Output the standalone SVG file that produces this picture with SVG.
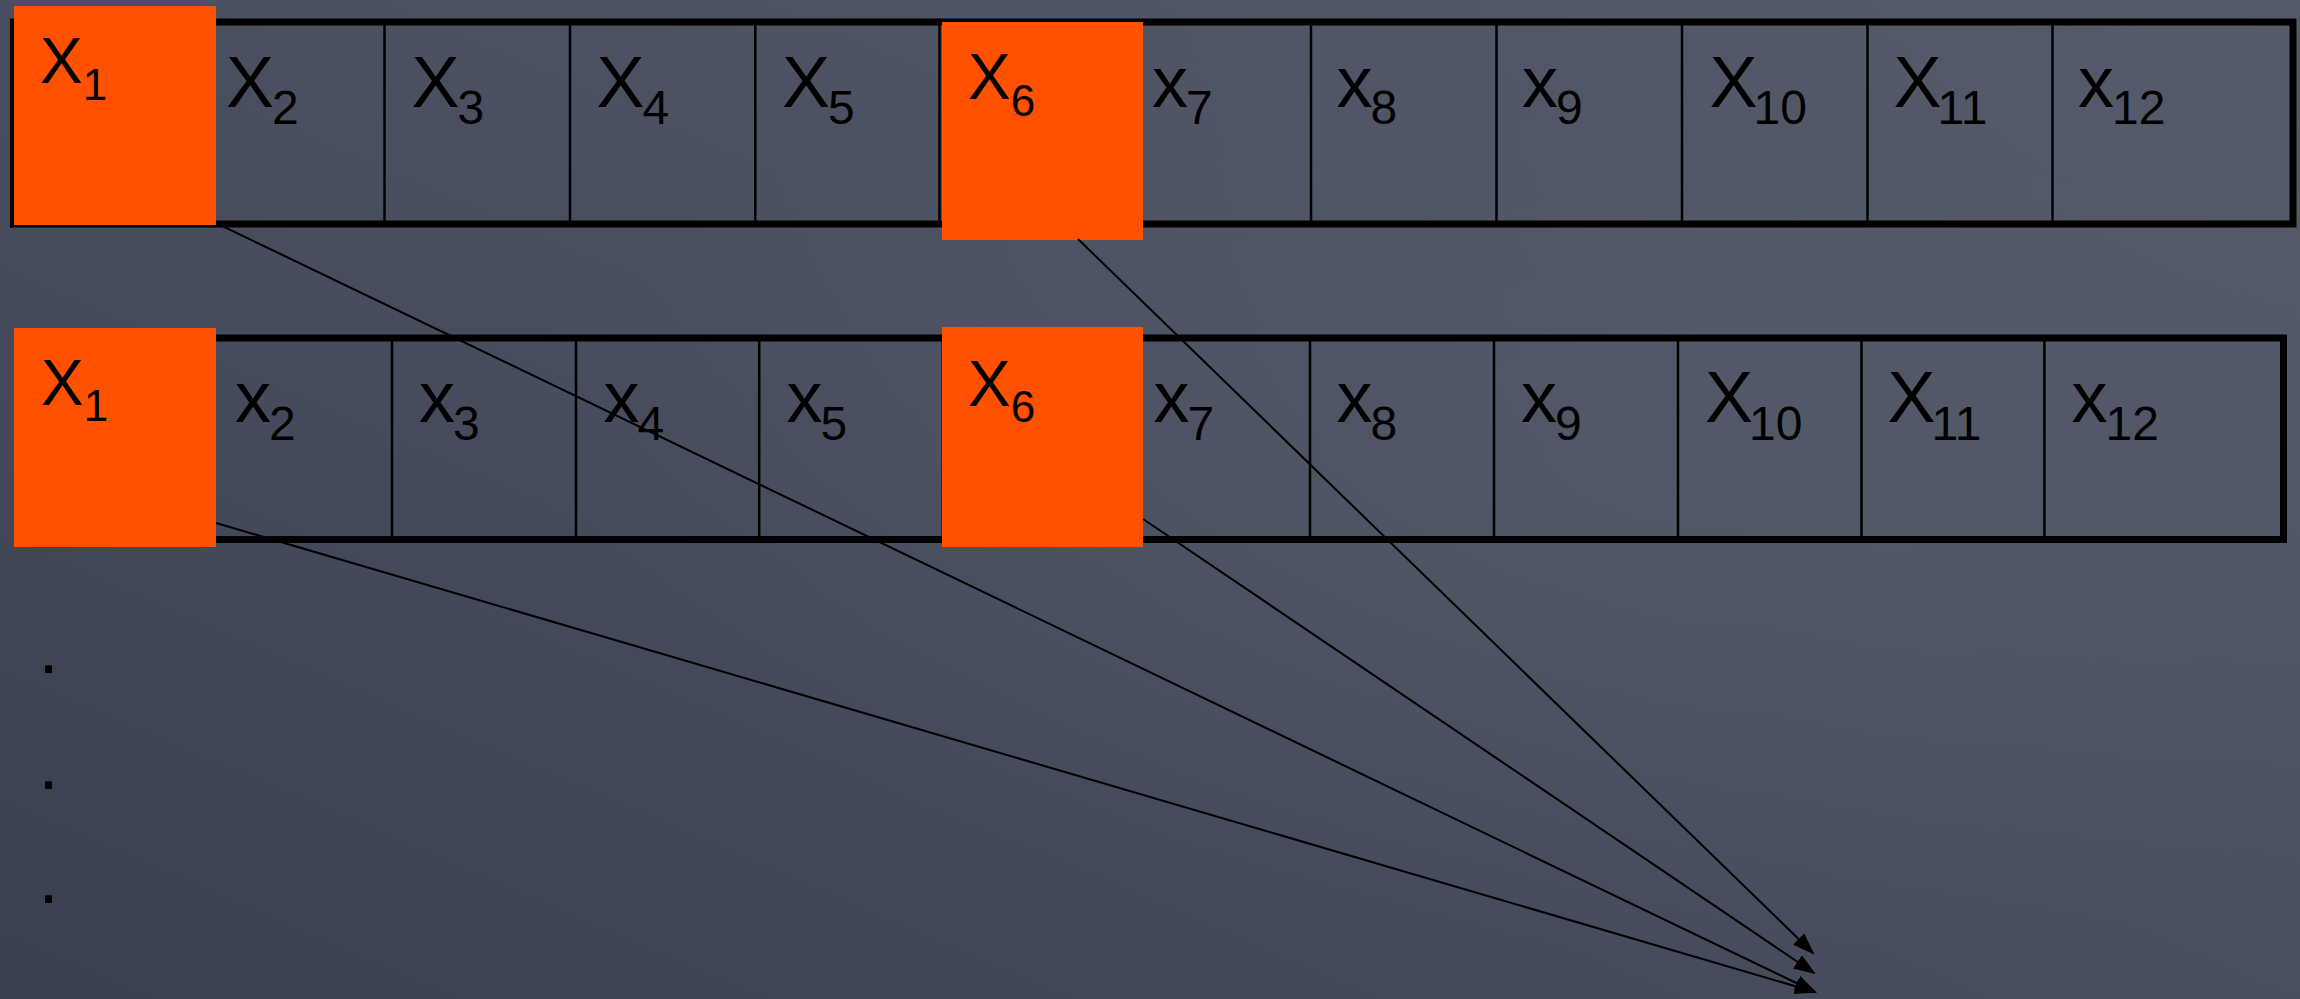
<svg xmlns="http://www.w3.org/2000/svg" width="2300" height="999" viewBox="0 0 2300 999">
<defs>
<linearGradient id="bg" x1="0" y1="1" x2="1" y2="0">
<stop offset="0" stop-color="#3b4050"/>
<stop offset="0.5" stop-color="#4a4f5f"/>
<stop offset="1" stop-color="#555b6b"/>
</linearGradient>
<radialGradient id="glow" cx="0.75" cy="0.45" r="0.5">
<stop offset="0" stop-color="#5a6070" stop-opacity="0.45"/>
<stop offset="1" stop-color="#5a6070" stop-opacity="0"/>
</radialGradient>
<marker id="arr" markerUnits="userSpaceOnUse" markerWidth="24" markerHeight="18" refX="20" refY="8" orient="auto">
<path d="M0,0 L22,8 L0,16 z" fill="#000"/>
</marker>
<style>
.row{fill:none;stroke:#000;stroke-width:7}
.div{stroke:#000;stroke-width:2.5}
.hl{fill:#ff5100}
.t{font-family:"Liberation Sans",Arial,sans-serif;font-size:72px;fill:#000}
.s{font-size:48px}
.to{font-family:"Liberation Sans",Arial,sans-serif;font-size:64px;fill:#000}
.so{font-size:44px}
.con{stroke:#000;stroke-width:2;fill:none;marker-end:url(#arr)}
</style>
</defs>
<rect width="2300" height="999" fill="url(#bg)"/>
<rect width="2300" height="999" fill="url(#glow)"/>

<g id="row-top">
<rect class="row" x="13.5" y="22" width="2279.5" height="202"/>
<line class="div" x1="199" y1="22" x2="199" y2="224"/>
<line class="div" x1="384.5" y1="22" x2="384.5" y2="224"/>
<line class="div" x1="570" y1="22" x2="570" y2="224"/>
<line class="div" x1="755.3" y1="22" x2="755.3" y2="224"/>
<line class="div" x1="939.5" y1="22" x2="939.5" y2="224"/>
<line class="div" x1="1126" y1="22" x2="1126" y2="224"/>
<line class="div" x1="1311" y1="22" x2="1311" y2="224"/>
<line class="div" x1="1496.5" y1="22" x2="1496.5" y2="224"/>
<line class="div" x1="1682" y1="22" x2="1682" y2="224"/>
<line class="div" x1="1867.5" y1="22" x2="1867.5" y2="224"/>
<line class="div" x1="2052.5" y1="22" x2="2052.5" y2="224"/>
</g>

<g id="row-bottom">
<rect class="row" x="24.8" y="338" width="2258.7" height="201.5"/>
<line class="div" x1="208.4" y1="338" x2="208.4" y2="539.5"/>
<line class="div" x1="392" y1="338" x2="392" y2="539.5"/>
<line class="div" x1="576" y1="338" x2="576" y2="539.5"/>
<line class="div" x1="759.2" y1="338" x2="759.2" y2="539.5"/>
<line class="div" x1="942.8" y1="338" x2="942.8" y2="539.5"/>
<line class="div" x1="1126.4" y1="338" x2="1126.4" y2="539.5"/>
<line class="div" x1="1310" y1="338" x2="1310" y2="539.5"/>
<line class="div" x1="1494" y1="338" x2="1494" y2="539.5"/>
<line class="div" x1="1678" y1="338" x2="1678" y2="539.5"/>
<line class="div" x1="1861.5" y1="338" x2="1861.5" y2="539.5"/>
<line class="div" x1="2044.4" y1="338" x2="2044.4" y2="539.5"/>
</g>

<g id="top-X1"><rect class="hl" x="14" y="6" width="202" height="219"/><text class="to" x="40" y="83">X<tspan class="so" dy="16.5">1</tspan></text></g>
<g id="top-X2"><text class="t" x="226" y="107">X<tspan class="s" dx="-2" dy="17">2</tspan></text></g>
<g id="top-X3"><text class="t" x="411.5" y="107">X<tspan class="s" dx="-2" dy="17">3</tspan></text></g>
<g id="top-X4"><text class="t" x="596.5" y="107">X<tspan class="s" dx="-2" dy="17">4</tspan></text></g>
<g id="top-X5"><text class="t" x="782" y="107">X<tspan class="s" dx="-2" dy="17">5</tspan></text></g>
<g id="top-X6"><rect class="hl" x="942" y="22" width="201" height="218"/><text class="to" x="968" y="99">X<tspan class="so" dy="16.5">6</tspan></text></g>
<g id="top-x7"><text class="t" x="1152" y="107">x<tspan class="s" dx="-2" dy="17">7</tspan></text></g>
<g id="top-x8"><text class="t" x="1336.5" y="107">x<tspan class="s" dx="-2" dy="17">8</tspan></text></g>
<g id="top-x9"><text class="t" x="1522" y="107">x<tspan class="s" dx="-2" dy="17">9</tspan></text></g>
<g id="top-X10"><text class="t" x="1709.5" y="107">X<tspan class="s" dx="-4" dy="17">10</tspan></text></g>
<g id="top-X11"><text class="t" x="1893.5" y="107">X<tspan class="s" dx="-4" dy="17">11</tspan></text></g>
<g id="top-x12"><text class="t" x="2078" y="107">x<tspan class="s" dx="-2" dy="17">12</tspan></text></g>

<g id="bot-X1"><rect class="hl" x="14" y="328" width="202" height="219"/><text class="to" x="41" y="405">X<tspan class="so" dy="16">1</tspan></text></g>
<g id="bot-x2"><text class="t" x="235" y="422">x<tspan class="s" dx="-2" dy="18">2</tspan></text></g>
<g id="bot-x3"><text class="t" x="419" y="422">x<tspan class="s" dx="-2" dy="18">3</tspan></text></g>
<g id="bot-x4"><text class="t" x="603.5" y="422">x<tspan class="s" dx="-2" dy="18">4</tspan></text></g>
<g id="bot-x5"><text class="t" x="786.5" y="422">x<tspan class="s" dx="-2" dy="18">5</tspan></text></g>
<g id="bot-X6"><rect class="hl" x="942" y="327" width="201" height="220"/><text class="to" x="968" y="406">X<tspan class="so" dy="15.5">6</tspan></text></g>
<g id="bot-x7"><text class="t" x="1153.5" y="422">x<tspan class="s" dx="-2" dy="18">7</tspan></text></g>
<g id="bot-x8"><text class="t" x="1336.5" y="422">x<tspan class="s" dx="-2" dy="18">8</tspan></text></g>
<g id="bot-x9"><text class="t" x="1521" y="422">x<tspan class="s" dx="-2" dy="18">9</tspan></text></g>
<g id="bot-X10"><text class="t" x="1705" y="422">X<tspan class="s" dx="-4" dy="18">10</tspan></text></g>
<g id="bot-X11"><text class="t" x="1887.5" y="422">X<tspan class="s" dx="-4" dy="18">11</tspan></text></g>
<g id="bot-x12"><text class="t" x="2071.5" y="422">x<tspan class="s" dx="-2" dy="18">12</tspan></text></g>

<g id="dots">
<text class="t" x="38.5" y="673">.</text>
<text class="t" x="38.5" y="789">.</text>
<text class="t" x="38.5" y="903">.</text>
</g>

<g id="connectors">
<line class="con" x1="216" y1="223" x2="1815" y2="992"/>
<line class="con" x1="1078" y1="239" x2="1813" y2="953"/>
<line class="con" x1="216" y1="523" x2="1815" y2="992"/>
<line class="con" x1="1143" y1="519" x2="1814" y2="973"/>
</g>
</svg>
